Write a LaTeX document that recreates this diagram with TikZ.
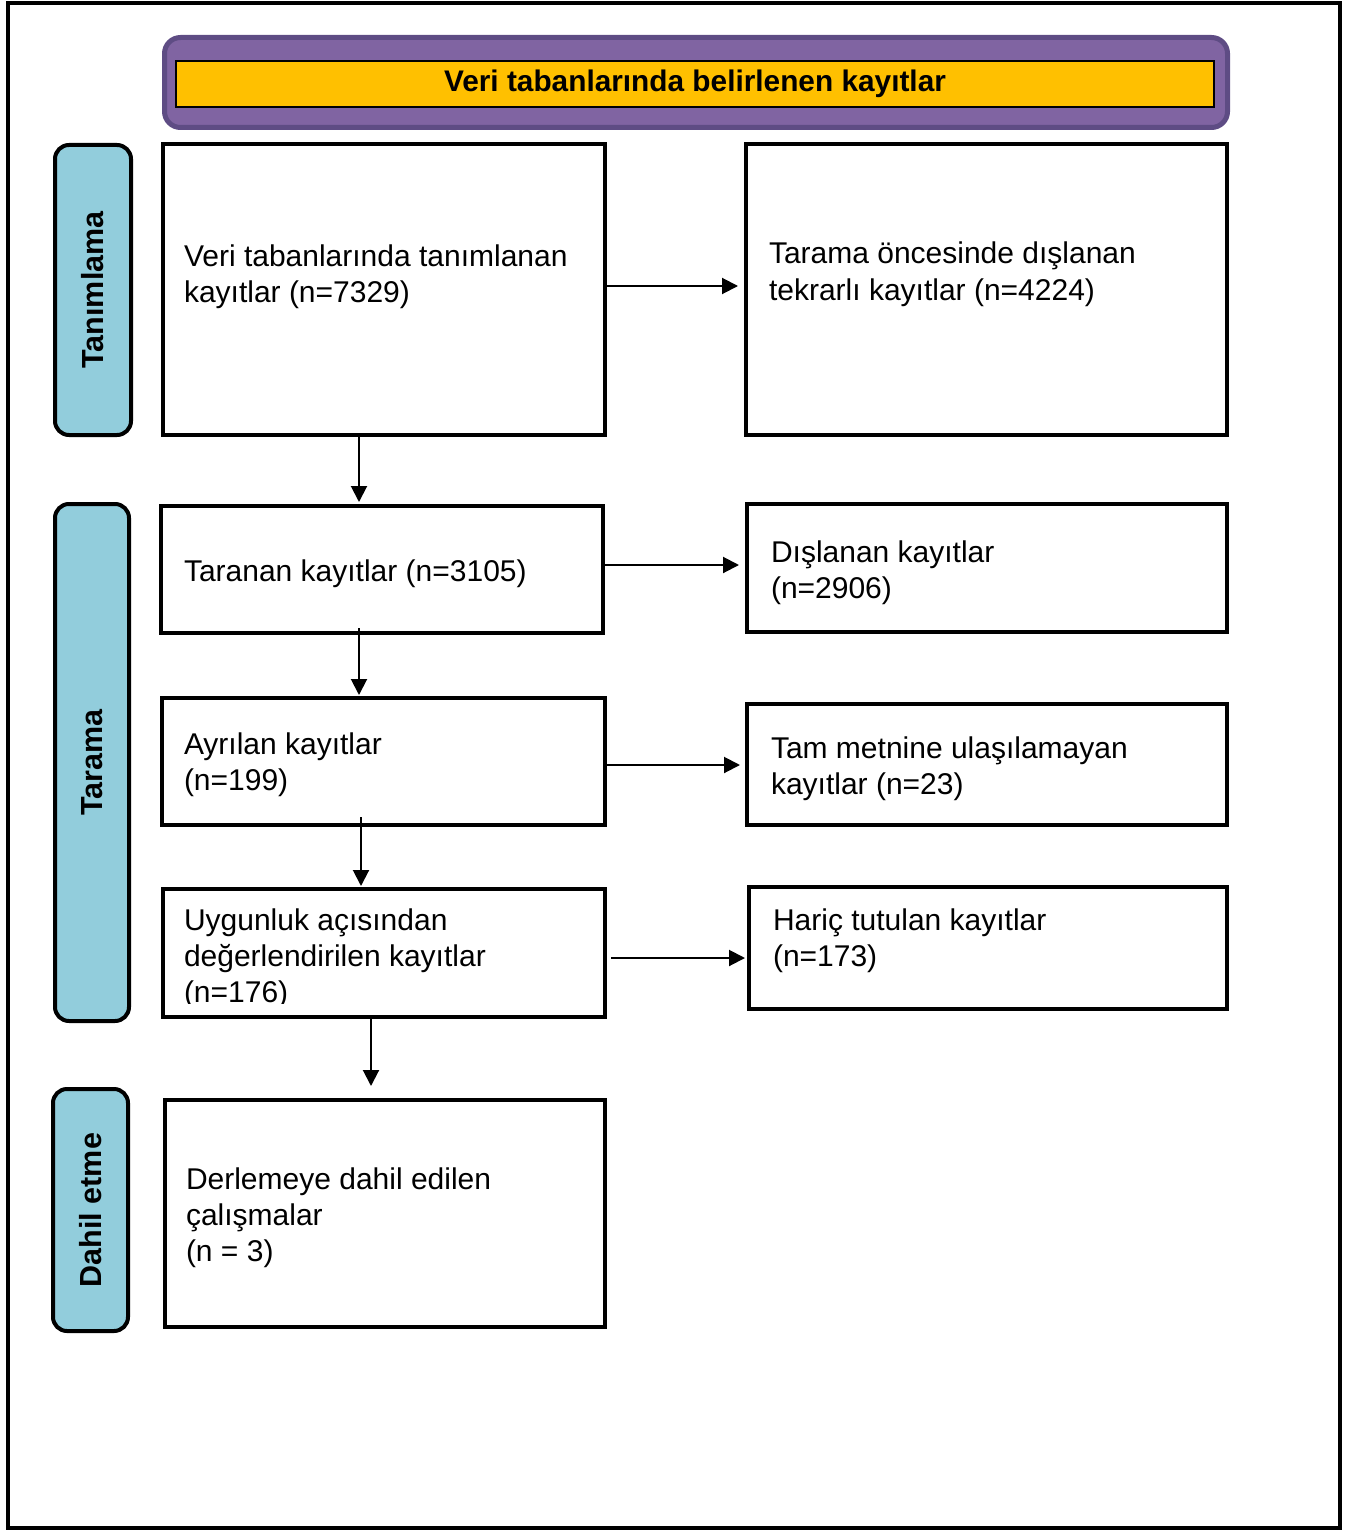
\documentclass[tikz,border=0pt]{standalone}
\usepackage{fontspec}
\setmainfont{Liberation Sans}
\usetikzlibrary{arrows.meta,calc}
\definecolor{purpfill}{HTML}{8064A2}
\definecolor{purpline}{HTML}{5E4C84}
\definecolor{goldfill}{HTML}{FFC000}
\definecolor{sideblue}{HTML}{92CDDC}
\newcommand{\boxlines}[1]{\parbox[t]{470pt}{\raggedright\fontsize{30}{36}\selectfont #1}}
\begin{document}
\begin{tikzpicture}[x=1pt,y=-1pt,
  flowbox/.style={draw,line width=4pt,fill=white,inner sep=0pt,anchor=north west},
  sidebox/.style={draw,line width=4pt,fill=sideblue,rounded corners=14pt,inner sep=0pt,anchor=north west},
  sidetext/.style={rotate=90,font=\bfseries\fontsize{30.5}{36}\selectfont,inner sep=0pt},
  txt/.style={anchor=base west,inner sep=0pt,outer sep=0pt},
  arr/.style={line width=2pt,-{Triangle[length=16pt,width=16pt]}},
]
\useasboundingbox (0,0) rectangle (1347,1530);
% outer frame
\draw[line width=4pt] (8,3.5) rectangle (1339.5,1527.5);

% title
\node[draw=purpline,line width=5pt,fill=purpfill,rounded corners=16pt,inner sep=0pt,anchor=north west,
      minimum width=1063pt,minimum height=90pt] (band) at (162,35) {};
\node[draw,line width=2pt,fill=goldfill,inner sep=0pt,anchor=north west,
      minimum width=1038pt,minimum height=46pt] (ybar) at (175,60) {};
\node[font=\bfseries\fontsize{29.8}{36}\selectfont,inner sep=0pt] (title) at (ybar.center) {Veri tabanlarında belirlenen kayıtlar};

% side labels
\node[sidebox,minimum width=76pt,minimum height=290pt] (s1) at (53,143) {};
\node[sidebox,minimum width=74pt,minimum height=517pt] (s2) at (53,502) {};
\node[sidebox,minimum width=75pt,minimum height=242pt] (s3) at (51,1087) {};
\node[sidetext] (s1t) at (s1.center) {Tanımlama};
\node[sidetext] (s2t) at (s2.center) {Tarama};
\node[sidetext] (s3t) at (s3.center) {Dahil etme};

% boxes
\node[flowbox,minimum width=442pt,minimum height=291pt] (b1) at (161,142) {};
\node[flowbox,minimum width=481pt,minimum height=291pt] (r1) at (744,142) {};
\node[flowbox,minimum width=442pt,minimum height=127pt] (b2) at (159,504) {};
\node[flowbox,minimum width=480pt,minimum height=128pt] (r2) at (745,502) {};
\node[flowbox,minimum width=443pt,minimum height=127pt] (b3) at (160,696) {};
\node[flowbox,minimum width=480pt,minimum height=121pt] (r3) at (745,702) {};
\node[flowbox,minimum width=442pt,minimum height=128pt] (b4) at (161,887) {};
\node[flowbox,minimum width=478pt,minimum height=122pt] (r4) at (747,885) {};
\node[flowbox,minimum width=440pt,minimum height=227pt] (b5) at (163,1098) {};

% texts
\node[txt] (t1) at (184,266) {\boxlines{Veri tabanlarında tanımlanan\\kayıtlar (n=7329)}};
\node[txt] (t1r) at (769,264) {\boxlines{Tarama öncesinde dışlanan\\tekrarlı kayıtlar (n=4224)}};
\node[txt] (t2) at (184,581) {\boxlines{Taranan kayıtlar (n=3105)}};
\node[txt] (t2r) at (771,562) {\boxlines{Dışlanan kayıtlar\\(n=2906)}};
\node[txt] (t3) at (184,754) {\boxlines{Ayrılan kayıtlar\\(n=199)}};
\node[txt] (t3r) at (771,758) {\boxlines{Tam metnine ulaşılamayan\\kayıtlar (n=23)}};
\begin{scope}
\clip (165,891) rectangle (603,1003);
\node[txt] (t4) at (184,930) {\boxlines{Uygunluk açısından\\değerlendirilen kayıtlar\\(n=176)}};
\end{scope}
\node[txt] (t4r) at (773,930) {\boxlines{Hariç tutulan kayıtlar\\(n=173)}};
\node[txt] (t5) at (186,1189) {\boxlines{Derlemeye dahil edilen\\çalışmalar\\(n = 3)}};

% horizontal connectors
\draw[arr] ($(b1.east)+(0,-3.5)$) -- ($(r1.west)+(-6,-3.5)$);
\draw[arr] ($(b2.east)+(0,-4.5)$) -- ($(r2.west)+(-6,-3)$);
\draw[arr] ($(b3.east)+(0,3.5)$) -- ($(r3.west)+(-5,0.5)$);
\draw[arr] ($(b4.east)+(4,5)$) -- ($(r4.west)+(-2,10)$);

% vertical connectors
\coordinate (v1) at (359,0);
\coordinate (v2) at (359,0);
\coordinate (v3) at (361,0);
\coordinate (v4) at (371,0);
\draw[arr] (b1.south -| v1) -- ($(b2.north -| v1)+(0,-2)$);
\draw[arr] ($(b2.south -| v2)+(0,-7)$) -- ($(b3.north -| v2)+(0,-1)$);
\draw[arr] ($(b3.south -| v3)+(0,-10)$) -- ($(b4.north -| v3)+(0,-1)$);
\draw[arr] (b4.south -| v4) -- ($(b5.north -| v4)+(0,-12)$);
\end{tikzpicture}
\end{document}
